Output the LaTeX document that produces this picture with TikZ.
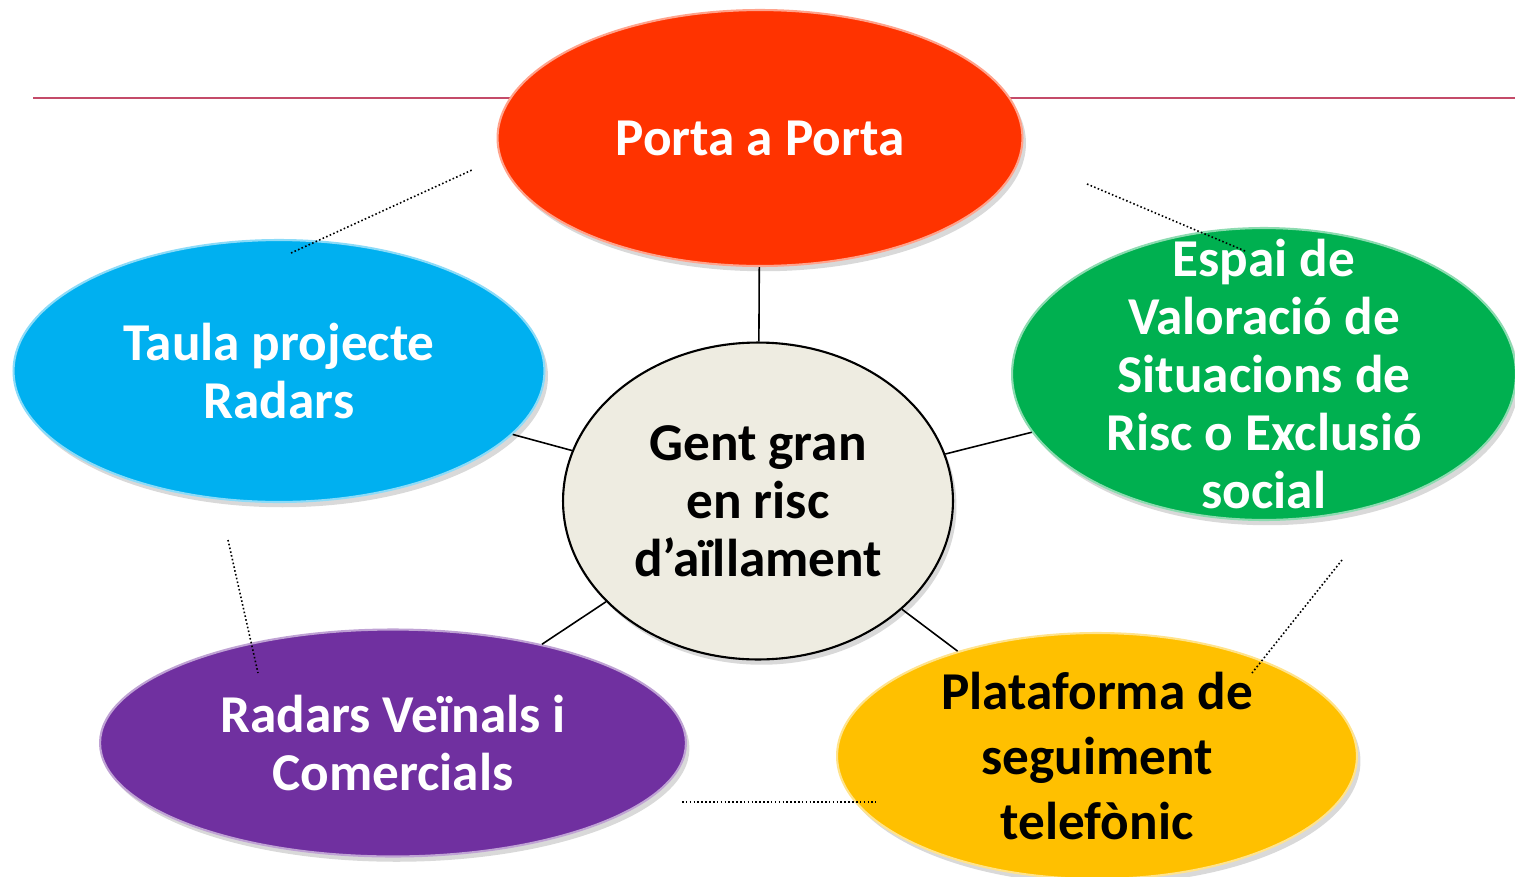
\documentclass[tikz,border=0pt]{standalone}
\usepackage{fontspec}
\setmainfont{Carlito}
\usetikzlibrary{shapes.geometric,shadows}
\definecolor{portared}{HTML}{FF3300}
\definecolor{taulablue}{HTML}{00B0F0}
\definecolor{espaigreen}{HTML}{00B050}
\definecolor{radarspurple}{HTML}{7030A0}
\definecolor{platyellow}{HTML}{FFC000}
\definecolor{centrefill}{HTML}{EEECE1}
\definecolor{rulecol}{RGB}{196,75,105}
\tikzset{
  bubble/.style={ellipse, fill=#1, draw=#1!45!white, line width=1.2pt, inner sep=0pt,
    drop shadow={opacity=0.3, shadow xshift=2pt, shadow yshift=-3pt}},
  bubbletext/.style={font={\bfseries\fontsize{30.3}{33}\selectfont}, text=white, align=center},
  link/.style={draw=black, line width=0.9pt},
  dots/.style={draw=black, line width=0.9pt, dash pattern=on 0.9pt off 1.3pt},
}
\begin{document}
\begin{tikzpicture}[x=0.02cm,y=-0.02cm]
\useasboundingbox (0,0) rectangle (1515,876);
% top rule
\coordinate (ruleL) at (33,98);
\coordinate (ruleR) at (1515,98);
\draw [rulecol, line width=1.7pt] (ruleL) -- (ruleR);
% bubbles
\node (porta) [bubble=portared, minimum width=10.5cm, minimum height=5.12cm] at (760,138) {};
\node (taula) [bubble=taulablue, minimum width=10.62cm, minimum height=5.24cm] at (279,371) {};
\node (espai) [bubble=espaigreen, minimum width=10.08cm, minimum height=5.84cm] at (1264,374) {};
\node (radars) [bubble=radarspurple, minimum width=11.72cm, minimum height=4.54cm] at (393,743) {};
\node (plat) [bubble=platyellow, minimum width=10.4cm, minimum height=4.92cm] at (1097,756) {};
\node (gent) [ellipse, fill=centrefill, draw=black, line width=1.2pt, inner sep=0pt,
  drop shadow={opacity=0.3, shadow xshift=2pt, shadow yshift=-3pt},
  minimum width=7.8cm, minimum height=6.34cm] at (758,501) {};
% labels
\node (portaT) [bubbletext] at (porta.center) {Porta a Porta};
\node (taulaT) [bubbletext] at (taula.center) {Taula projecte\\Radars};
\node (espaiT) [bubbletext] at (espai.center) {Espai de\\Valoració de\\Situacions de\\Risc o Exclusió\\social};
\node (radarsT) [bubbletext] at (radars.center) {Radars Veïnals i\\Comercials};
\node (platT) [bubbletext, text=black, font={\bfseries\fontsize{30.3}{37}\selectfont}] at (plat.center) {Plataforma de\\seguiment\\telefònic};
\node (gentT) [bubbletext, text=black] at (gent.center) {Gent gran\\en risc\\d’aïllament};
% links
\draw [link] (gent) -- (porta);
\draw [link] (gent) -- (taula);
\draw [link] (gent) -- (espai);
\draw [link] (gent) -- (radars);
\draw [link] (gent) -- (plat);
% dotted strokes
\coordinate (d1a) at (291,253); \coordinate (d1b) at (472,170);
\coordinate (d2a) at (1087,184); \coordinate (d2b) at (1245,251);
\coordinate (d3a) at (228,540); \coordinate (d3b) at (258,673);
\coordinate (d4a) at (682,802); \coordinate (d4b) at (876,802);
\coordinate (d5a) at (1342,560); \coordinate (d5b) at (1252,673);
\draw [dots] (d1a) -- (d1b);
\draw [dots] (d2a) -- (d2b);
\draw [dots] (d3a) -- (d3b);
\draw [dots] (d4a) -- (d4b);
\draw [dots] (d5a) -- (d5b);
\end{tikzpicture}
\end{document}
